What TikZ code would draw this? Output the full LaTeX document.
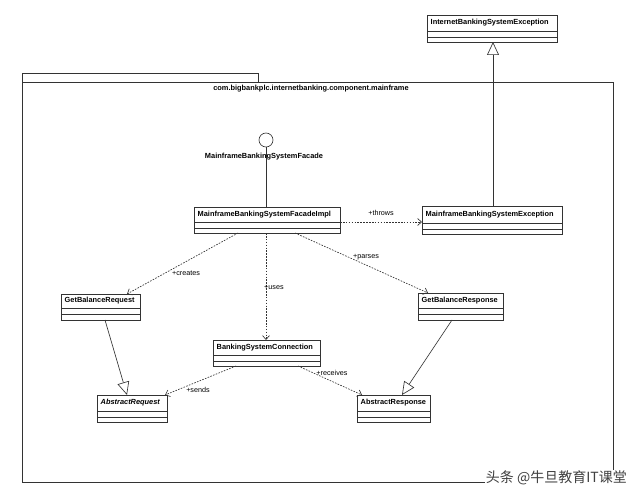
\documentclass[tikz,border=0pt]{standalone}
\usepackage{fontspec}
\setmainfont{Liberation Sans}
\newfontfamily\cjkfont{Noto Sans CJK SC}
\usetikzlibrary{arrows.meta,shadows,calc}
\tikzset{
 ln/.style={draw=black!80, line width=0.65pt},
 shd/.style={drop shadow={shadow xshift=1.2pt, shadow yshift=-1.2pt, fill=black!18, opacity=1}},
 clsbox/.style={rectangle, draw=black!80, fill=white, line width=0.65pt, inner sep=0pt, outer sep=0pt, shd},
 clsname/.style={font=\fontsize{7.4}{9}\selectfont\bfseries, inner sep=0pt, anchor=west},
 dep/.style={ln, dash pattern=on 1.6pt off 1.3pt, -{Straight Barb[length=4pt,width=7pt]}},
 gen/.style={ln, -{Triangle[open, length=13pt, width=12pt, fill=white]}},
 lbl/.style={font=\fontsize{7.2}{8}\selectfont, inner sep=0pt},
}
\newcommand\umlcls[8]{%
 \node[clsbox, anchor=north west, minimum width={#4pt-#2pt}, minimum height={#5pt-#3pt}] (#1) at (#2,#3) {};
 \draw[ln] (#2,#6) -- (#4,#6) (#2,#7) -- (#4,#7);
 \node[clsname] (#1-name) at ({#2+3.5},{(#3+#6)/2}) {#8};
}
\begin{document}
\begin{tikzpicture}[x=1pt,y=-1pt]
\useasboundingbox (0,0) rectangle (640,500);
% package frame
\draw[ln, fill=white, shd] (22,82) rectangle (613,482);
\draw[ln, fill=white] (22,73) rectangle (258,82);
\node[clsname, anchor=center] (pkg) at (311,89) {com.bigbankplc.internetbanking.component.mainframe};
% classes
\umlcls{ibse}{427}{15}{557}{42}{31}{37}{InternetBankingSystemException}
\umlcls{mbse}{422}{206}{562}{234}{223}{229}{MainframeBankingSystemException}
\umlcls{impl}{194}{207}{340}{233}{222}{228}{MainframeBankingSystemFacadeImpl}
\umlcls{gbreq}{61}{294}{140}{320}{308}{314}{GetBalanceRequest}
\umlcls{gbresp}{418}{293}{503}{320}{308}{314}{GetBalanceResponse}
\umlcls{bsc}{213}{340}{320}{366}{355}{361}{BankingSystemConnection}
\umlcls{areq}{97}{395}{167}{422}{411}{417}{\itshape AbstractRequest}
\umlcls{aresp}{357}{395}{430}{422}{411}{417}{AbstractResponse}
% interface lollipop
\node[circle, draw=black!80, fill=white, line width=0.65pt, minimum size=14pt, inner sep=0pt] (iface) at (266,140) {};
\draw[ln] (iface.south) -- (impl.north -| iface.south);
\node[clsname, anchor=center] (iface-name) at (264,157) {MainframeBankingSystemFacade};
% dependencies
\draw[dep] ($(impl.north east)+(0,15)$) -- ($(mbse.north west)+(0,16)$);
\draw[dep] ($(impl.south west)+(44,0)$) -- ($(gbreq.north west)+(66,0)$);
\draw[dep] ($(impl.south west)+(72,0)$) -- ($(bsc.north west)+(53,0)$);
\draw[dep] ($(impl.south west)+(101,0)$) -- ($(gbresp.north west)+(10,0)$);
\draw[dep] ($(bsc.south west)+(23,0)$) -- ($(areq.north east)+(-2,0)$);
\draw[dep] ($(bsc.south west)+(85,0)$) -- ($(aresp.north west)+(5,0)$);
% generalizations
\draw[gen] ($(gbreq.south west)+(44,0)$) -- ($(areq.north west)+(30,0)$);
\draw[gen] ($(gbresp.south west)+(34,0)$) -- ($(aresp.north west)+(45,0)$);
\draw[gen] ($(mbse.north west)+(71,0)$) -- ($(ibse.south west)+(66,0)$);
% labels
\node[lbl] (l-throws) at (381,213) {+throws};
\node[lbl] (l-creates) at (186,273) {+creates};
\node[lbl, anchor=west] (l-uses) at (264,287) {+uses};
\node[lbl] (l-parses) at (366,257) {+parses};
\node[lbl] (l-sends) at (198,390) {+sends};
\node[lbl] (l-receives) at (332,373) {+receives};
% watermark
\node[font=\cjkfont\fontsize{14}{16}\selectfont, text=black!75, anchor=east, fill=white, inner sep=1pt] (wm) at (628,478) {头条 @牛旦教育IT课堂};
\end{tikzpicture}
\end{document}
